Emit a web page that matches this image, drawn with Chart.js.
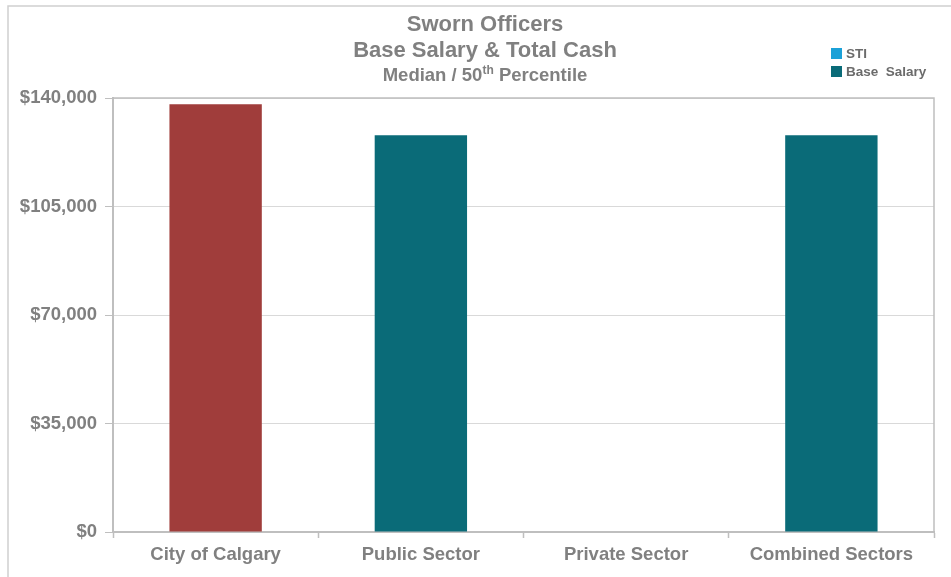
<!DOCTYPE html>
<html>
<head>
<meta charset="utf-8">
<script src="https://cdn.jsdelivr.net/npm/chart.js@4.4.0/dist/chart.umd.min.js"></script>
<style>
  html, body { margin: 0; padding: 0; background: #fff; }
  canvas { display: block; }
</style>
</head>
<body>
<canvas id="chart" width="951" height="577"></canvas>
<script>
const categories = ['City of Calgary', 'Public Sector', 'Private Sector', 'Combined Sectors'];
const stiValues = [0, 0, 0, 0];
const baseSalaryValues = [138000, 128000, null, 128000];
const yTicks = [0, 35000, 70000, 105000, 140000];
const titleLines = ['Sworn Officers', 'Base Salary & Total Cash'];

const grey = '#808080';
const axisGrey = '#bfbfbf';
const fontFamily = '"Liberation Sans", Arial, sans-serif';

const fmtMoney = v => '$' + v.toLocaleString('en-US');

// title + legend + frame drawn by hand so the superscript and legend spot match
const decorations = {
    id: 'decorations',
    afterDraw(chart) {
        const ctx = chart.ctx;
        const area = chart.chartArea;
        ctx.save();

        // outer frame
        ctx.strokeStyle = '#d0d0d0';
        ctx.lineWidth = 1.5;
        ctx.beginPath();
        ctx.moveTo(8, 577);
        ctx.lineTo(8, 6);
        ctx.lineTo(951, 6);
        ctx.stroke();

        // plot box top/right
        ctx.strokeStyle = axisGrey;
        ctx.lineWidth = 1.5;
        ctx.beginPath();
        ctx.moveTo(area.left, area.top);
        ctx.lineTo(area.right, area.top);
        ctx.lineTo(area.right, area.bottom);
        ctx.stroke();

        // titles
        const cx = 485;
        ctx.fillStyle = grey;
        ctx.textAlign = 'center';
        ctx.textBaseline = 'middle';
        ctx.font = 'bold 22px ' + fontFamily;
        ctx.fillText(titleLines[0], cx, 25);
        ctx.fillText(titleLines[1], cx, 51);

        // subtitle with superscript "th"
        const partA = 'Median / 50';
        const sup = 'th';
        const partB = ' Percentile';
        const big = 'bold 18.5px ' + fontFamily;
        const small = 'bold 12px ' + fontFamily;
        ctx.font = big;
        const wA = ctx.measureText(partA).width;
        const wB = ctx.measureText(partB).width;
        ctx.font = small;
        const wS = ctx.measureText(sup).width;
        let x = cx - (wA + wS + wB) / 2;
        ctx.textAlign = 'left';
        ctx.font = big;
        ctx.fillText(partA, x, 76);
        x += wA;
        ctx.font = small;
        ctx.fillText(sup, x, 71);
        x += wS;
        ctx.font = big;
        ctx.fillText(partB, x, 76);

        // legend
        ctx.font = 'bold 13.5px ' + fontFamily;
        ctx.textBaseline = 'middle';
        const items = chart.data.datasets.map(ds => ({ label: ds.label, color: ds.legendColor }));
        items.forEach((it, i) => {
            const y = 54 + i * 18;
            ctx.fillStyle = it.color;
            ctx.fillRect(831, y - 6, 11, 11);
            ctx.fillStyle = '#6b6b6b';
            ctx.fillText(it.label, 846, y);
        });

        ctx.restore();
    }
};

const ctx = document.getElementById('chart').getContext('2d');
new Chart(ctx, {
    type: 'bar',
    data: {
        labels: categories,
        datasets: [
            {
                label: 'STI',
                data: stiValues,
                backgroundColor: '#1ba1d8',
                legendColor: '#1ba1d8',
                categoryPercentage: 0.9,
                barPercentage: 0.5,
            },
            {
                label: 'Base  Salary',
                data: baseSalaryValues,
                backgroundColor: ['#a03d3b', '#0a6b78', '#0a6b78', '#0a6b78'],
                legendColor: '#0a6b78',
                categoryPercentage: 0.9,
                barPercentage: 0.5,
            },
        ],
    },
    options: {
        responsive: false,
        animation: false,
        layout: { padding: { top: 98, right: 17, left: 0, bottom: 0 } },
        plugins: {
            legend: { display: false },
            title: { display: false },
            tooltip: { enabled: false },
        },
        scales: {
            x: {
                stacked: true,
                grid: {
                    offset: true,
                    drawOnChartArea: false,
                    tickLength: 6,
                    tickColor: axisGrey,
                    tickWidth: 1.5,
                },
                border: { color: axisGrey, width: 2 },
                ticks: {
                    color: grey,
                    padding: 6,
                    font: { family: fontFamily, size: 18.5, weight: 'bold' },
                },
                afterFit: scale => { scale.height = 45; },
            },
            y: {
                stacked: true,
                min: 0,
                max: 140000,
                afterBuildTicks: scale => { scale.ticks = yTicks.map(v => ({ value: v })); },
                grid: {
                    color: '#d9d9d9',
                    tickColor: axisGrey,
                    tickLength: 8,
                },
                border: { color: axisGrey, width: 2 },
                ticks: {
                    color: grey,
                    padding: 8,
                    font: { family: fontFamily, size: 18.5, weight: 'bold' },
                    callback: v => fmtMoney(v),
                },
                afterFit: scale => { scale.width = 113; },
            },
        },
    },
    plugins: [decorations],
});
</script>
</body>
</html>
